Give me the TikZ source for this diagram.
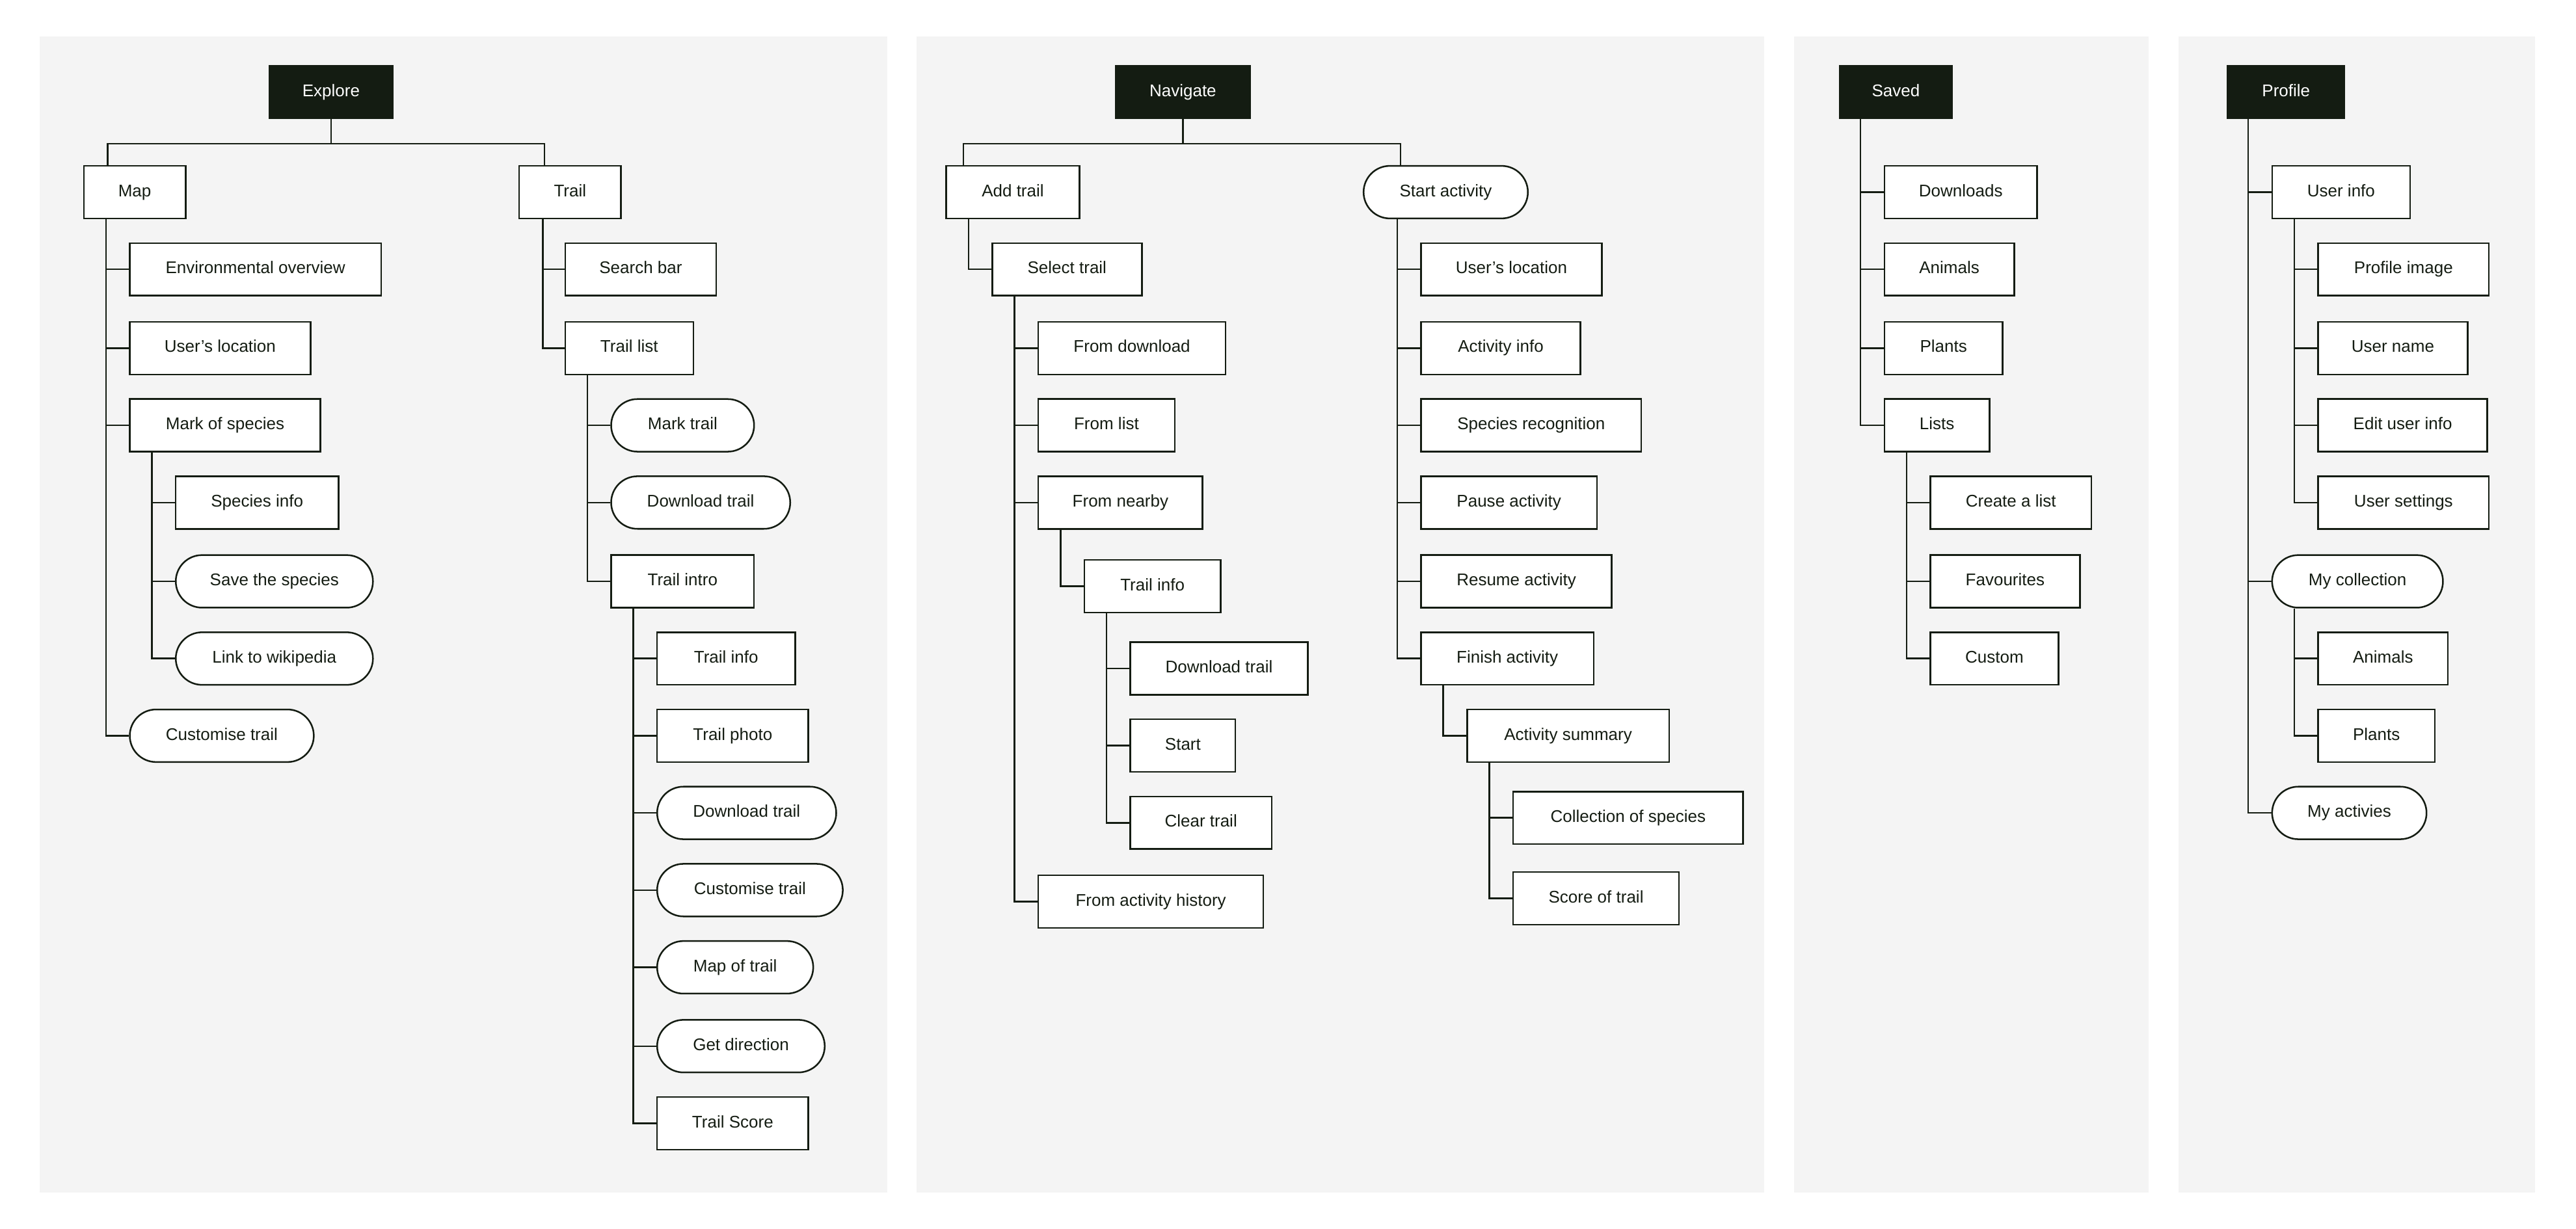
\documentclass[tikz,border=0pt]{standalone}
\usepackage{fontspec}
\setmainfont{Liberation Sans}
\definecolor{bg}{HTML}{F4F4F4}
\definecolor{ink}{HTML}{141C12}
\newcommand\nd[6]{\node[#1,minimum width={(#4)-(#3)}] (#2) at ({((#3)+(#4))/2},#5) {#6};}
\newcommand\lk[3]{\draw[conn] ([xshift=#3]#1.south west) |- (#2.west);}
\begin{document}
\begin{tikzpicture}[x=1pt,y=-1pt,
  base/.style={draw=ink,line width=1pt,minimum height=32pt,inner sep=0pt,text height=7.4pt,text depth=2.2pt,font=\fontsize{10.3}{12}\selectfont,text=ink},
  bx/.style={base,fill=white},
  pl/.style={base,fill=white,rounded corners=16pt},
  hd/.style={base,fill=ink,text=white},
  conn/.style={draw=ink,line width=1pt}]
\useasboundingbox (0,0) rectangle (1568,748);
\fill[white] (0,0) rectangle (1568,748);
\fill[bg] (24,22) rectangle (540,726);
\fill[bg] (558,22) rectangle (1074,726);
\fill[bg] (1092,22) rectangle (1308,726);
\fill[bg] (1326,22) rectangle (1543,726);
% ---------- Explore
\nd{hd}{exp}{164}{239}{56}{Explore}
\nd{bx}{map}{51}{113}{117}{Map}
\nd{bx}{trl}{316}{378}{117}{Trail}
\draw[conn] (exp.south) -- ++(0,15) -| ([xshift=15pt]map.north west);
\draw[conn] (exp.south) -- ++(0,15) -| ([xshift=16pt]trl.north west);
\nd{bx}{env}{79}{232}{164}{Environmental overview}
\nd{bx}{uloc}{79}{189}{212}{User’s location}
\nd{bx}{mos}{79}{195}{259}{Mark of species}
\nd{bx}{spi}{107}{206}{306}{Species info}
\nd{pl}{sav1}{107}{227}{354}{Save the species}
\nd{pl}{wik}{107}{227}{401}{Link to wikipedia}
\nd{pl}{cus1}{79}{191}{448}{Customise trail}
\lk{map}{env}{14pt}\lk{map}{uloc}{14pt}\lk{map}{mos}{14pt}\lk{map}{cus1}{14pt}
\lk{mos}{spi}{14pt}\lk{mos}{sav1}{14pt}\lk{mos}{wik}{14pt}
\nd{bx}{sbar}{344}{436}{164}{Search bar}
\nd{bx}{tlist}{344}{422}{212}{Trail list}
\lk{trl}{sbar}{15pt}\lk{trl}{tlist}{15pt}
\nd{pl}{mkt}{372}{459}{259}{Mark trail}
\nd{pl}{dlt1}{372}{481}{306}{Download trail}
\nd{bx}{tintro}{372}{459}{354}{Trail intro}
\lk{tlist}{mkt}{14pt}\lk{tlist}{dlt1}{14pt}\lk{tlist}{tintro}{14pt}
\nd{bx}{ti1}{400}{484}{401}{Trail info}
\nd{bx}{tph}{400}{492}{448}{Trail photo}
\nd{pl}{dlt2}{400}{509}{495}{Download trail}
\nd{pl}{cus2}{400}{513}{542}{Customise trail}
\nd{pl}{mot}{400}{495}{589}{Map of trail}
\nd{pl}{gdir}{400}{502}{637}{Get direction}
\nd{bx}{tsc}{400}{492}{684}{Trail Score}
\foreach \c in {ti1,tph,dlt2,cus2,mot,gdir,tsc}{\lk{tintro}{\c}{14pt}}
% ---------- Navigate
\nd{hd}{nav}{679}{761}{56}{Navigate}
\nd{bx}{add}{576}{657}{117}{Add trail}
\nd{pl}{sta}{830}{930}{117}{Start activity}
\draw[conn] (nav.south) -- ++(0,15) -| ([xshift=11pt]add.north west);
\draw[conn] (nav.south) -- ++(0,15) -| ([xshift=23pt]sta.north west);
\nd{bx}{sel}{604}{695}{164}{Select trail}
\lk{add}{sel}{14pt}
\nd{bx}{fdl}{632}{746}{212}{From download}
\nd{bx}{fli}{632}{715}{259}{From list}
\nd{bx}{fnb}{632}{732}{306}{From nearby}
\nd{bx}{fah}{632}{769}{549}{From activity history}
\foreach \c in {fdl,fli,fnb,fah}{\lk{sel}{\c}{14pt}}
\nd{bx}{ti2}{660}{743}{357}{Trail info}
\lk{fnb}{ti2}{14pt}
\nd{bx}{dlt3}{688}{796}{407}{Download trail}
\nd{bx}{stt}{688}{752}{454}{Start}
\nd{bx}{clr}{688}{774}{501}{Clear trail}
\foreach \c in {dlt3,stt,clr}{\lk{ti2}{\c}{14pt}}
\nd{bx}{ul2}{865}{975}{164}{User’s location}
\nd{bx}{ainf}{865}{962}{212}{Activity info}
\nd{bx}{srec}{865}{999}{259}{Species recognition}
\nd{bx}{pau}{865}{972}{306}{Pause activity}
\nd{bx}{res}{865}{981}{354}{Resume activity}
\nd{bx}{fin}{865}{970}{401}{Finish activity}
\foreach \c in {ul2,ainf,srec,pau,res,fin}{\lk{sta}{\c}{21pt}}
\nd{bx}{asum}{893}{1016}{448}{Activity summary}
\lk{fin}{asum}{14pt}
\nd{bx}{cos}{921}{1061}{498}{Collection of species}
\nd{bx}{sot}{921}{1022}{547}{Score of trail}
\lk{asum}{cos}{14pt}\lk{asum}{sot}{14pt}
% ---------- Saved
\nd{hd}{svd}{1120}{1188}{56}{Saved}
\nd{bx}{dls}{1147}{1240}{117}{Downloads}
\nd{bx}{ani}{1147}{1226}{164}{Animals}
\nd{bx}{pla}{1147}{1219}{212}{Plants}
\nd{bx}{lst}{1147}{1211}{259}{Lists}
\foreach \c in {dls,ani,pla,lst}{\lk{svd}{\c}{13pt}}
\nd{bx}{cal}{1175}{1273}{306}{Create a list}
\nd{bx}{fav}{1175}{1266}{354}{Favourites}
\nd{bx}{cst}{1175}{1253}{401}{Custom}
\foreach \c in {cal,fav,cst}{\lk{lst}{\c}{14pt}}
% ---------- Profile
\nd{hd}{prf}{1356}{1427}{56}{Profile}
\nd{bx}{uin}{1383}{1467}{117}{User info}
\nd{pl}{myc}{1383}{1487}{354}{My collection}
\nd{pl}{mya}{1383}{1477}{495}{My activies}
\foreach \c in {uin,myc,mya}{\lk{prf}{\c}{13pt}}
\nd{bx}{pim}{1411}{1515}{164}{Profile image}
\nd{bx}{una}{1411}{1502}{212}{User name}
\nd{bx}{eui}{1411}{1514}{259}{Edit user info}
\nd{bx}{ust}{1411}{1515}{306}{User settings}
\foreach \c in {pim,una,eui,ust}{\lk{uin}{\c}{14pt}}
\nd{bx}{ani2}{1411}{1490}{401}{Animals}
\nd{bx}{pla2}{1411}{1482}{448}{Plants}
\lk{myc}{ani2}{14pt}\lk{myc}{pla2}{14pt}
\end{tikzpicture}
\end{document}
